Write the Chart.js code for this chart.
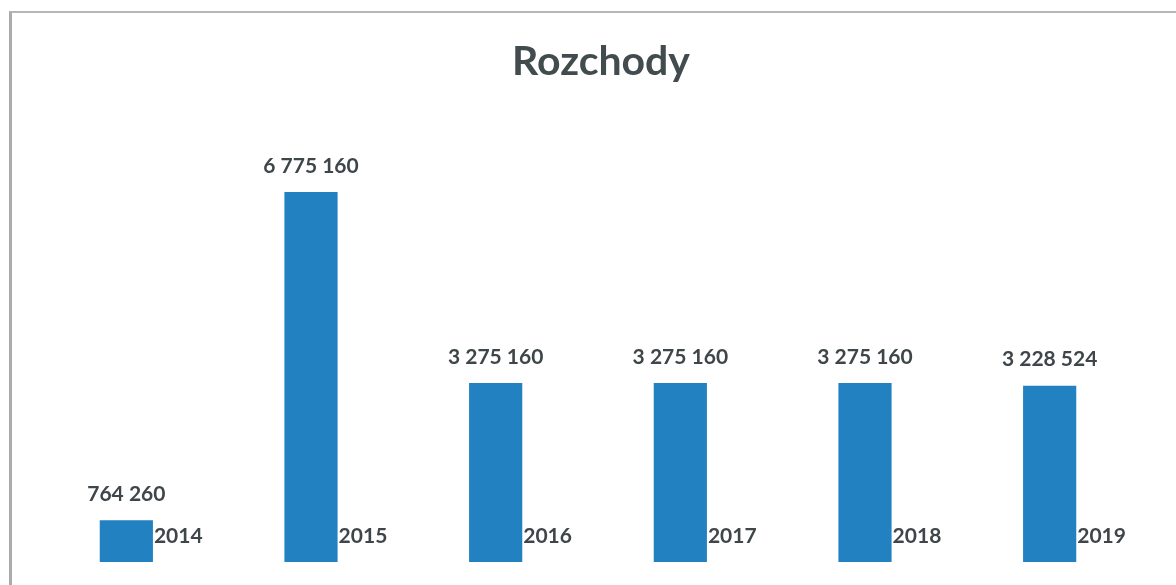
<!DOCTYPE html>
<html>
<head>
<meta charset="utf-8">
<script src="https://cdn.jsdelivr.net/npm/chart.js@4/dist/chart.umd.min.js"></script>
<style>
  body { margin: 0; background: #fff; }
  #wrap { position: relative; width: 1176px; height: 585px; }
  #frame { position: absolute; left: 9px; top: 11px; right: 0; bottom: -5px;
           border-top: 2px solid #b4b6b8; border-left: 3px solid #a9abad; }
  canvas { position: absolute; left: 0; top: 0; }
</style>
</head>
<body>
<div id="wrap">
  <div id="frame"></div>
  <canvas id="rozchodyChart" width="1176" height="585"></canvas>
</div>
<script>
// Rozchody by year
const chartTitle = 'Rozchody';
const years = ['2014', '2015', '2016', '2017', '2018', '2019'];
const rozchody = [764260, 6775160, 3275160, 3275160, 3275160, 3228524];

const textColor = '#3f4649';
const fontName = 'Lato, "Open Sans", sans-serif';

function spaced(n) {
  return String(n).replace(/\B(?=(\d{3})+(?!\d))/g, ' ');
}

// title (a bit right of centre, as in the original) + value above bar, year next to bar foot
const barLabels = {
  id: 'barLabels',
  afterDatasetsDraw(chart) {
    const ctx = chart.ctx;
    const bars = chart.getDatasetMeta(0).data;
    ctx.save();
    ctx.fillStyle = '#424b4e';
    ctx.font = 'bold 41px ' + fontName;
    ctx.textAlign = 'center';
    ctx.textBaseline = 'middle';
    ctx.fillText(chartTitle, 601, 62);

    ctx.fillStyle = textColor;
    ctx.font = 'bold 21px ' + fontName;
    bars.forEach((bar, i) => {
      ctx.textAlign = 'center';
      ctx.fillText(spaced(rozchody[i]), bar.x, bar.y - 26);
      ctx.textAlign = 'left';
      ctx.fillText(years[i], bar.x + bar.width / 2 + 1, bar.base - 26);
    });
    ctx.restore();
  }
};

const ctx = document.getElementById('rozchodyChart').getContext('2d');
new Chart(ctx, {
  type: 'bar',
  data: {
    labels: years,
    datasets: [{
      label: 'Rozchody',
      data: rozchody,
      backgroundColor: '#2181c1',
      categoryPercentage: 1,
      barPercentage: 0.288
    }]
  },
  options: {
    responsive: false,
    animation: false,
    layout: { padding: { left: 34, right: 34, top: 93, bottom: 23 } },
    plugins: {
      legend: { display: false },
      tooltip: { enabled: false },
      title: { display: false }
    },
    scales: {
      x: { display: false },
      y: { display: false, min: 0, max: 8586000 }
    }
  },
  plugins: [barLabels]
});
</script>
</body>
</html>
